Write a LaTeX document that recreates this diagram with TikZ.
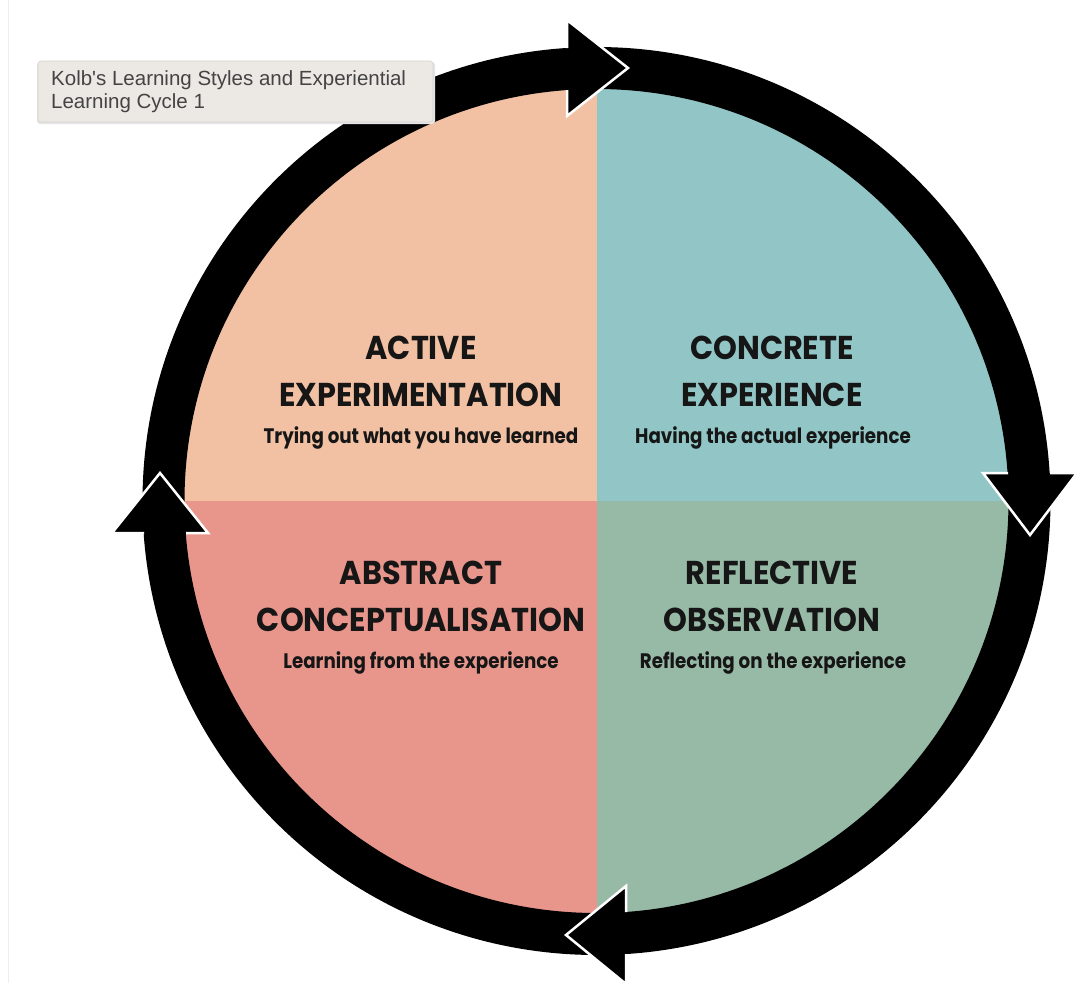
\documentclass[tikz,border=0pt]{standalone}
\usepackage{fontspec}
\setmainfont{Liberation Sans}
\newfontfamily\headfont{Poppins}[FakeStretch=0.92]
\newfontfamily\subfont{Poppins}[FakeStretch=0.87]
\definecolor{peach}{HTML}{F2C0A3}
\definecolor{teal}{HTML}{92C6C6}
\definecolor{salmon}{HTML}{E8968C}
\definecolor{sage}{HTML}{97BAA7}
\definecolor{ink}{HTML}{161616}
\definecolor{tipfill}{HTML}{ECE9E5}
\definecolor{tipline}{HTML}{D6D3CF}
\definecolor{tiptext}{HTML}{444444}
\definecolor{edge}{HTML}{EEEEEE}
\tikzset{
  heading/.style={text=ink, font=\headfont\bfseries\fontsize{33}{36}\selectfont, inner sep=0pt},
  subline/.style={text=ink, font=\subfont\bfseries\fontsize{21}{24}\selectfont, inner sep=0pt},
  headfill/.style={fill=black},
  headedge/.style={draw=white, line width=2.5pt, line join=miter},
}
\begin{document}
\begin{tikzpicture}[x=1pt,y=-1pt]
\useasboundingbox[fill=white] (0,0) rectangle (1074,983);
\draw[edge, line width=1.5pt] (8.5,0) -- (8.5,983);
\coordinate (O) at (596.5,501);

% four coloured quadrants
\begin{scope}
  \clip (O) circle (414pt);
  \fill[peach]  (O) rectangle (150,60);
  \fill[teal]   (O) rectangle (1040,60);
  \fill[salmon] (O) rectangle (150,950);
  \fill[sage]   (O) rectangle (1040,950);
\end{scope}

% cycle ring
\draw[line width=42pt] (O) circle (433pt);

% arrowheads, clockwise; the white edge leaves out the part joined to the ring
\fill[headfill] (567,20) -- (628,68) -- (567,116) -- cycle;
\draw[headedge] (567,90) -- (567,116) -- (628,68) -- (567,20) -- (567,48);

\fill[headfill] (983,473) -- (1030,535) -- (1077,473) -- cycle;
\draw[headedge] (1008,473) -- (983,473) -- (1030,535) -- (1077,473) -- (1050,473);

\fill[headfill] (626,886) -- (566,935) -- (626,984) -- cycle;
\draw[headedge] (626,912) -- (626,886) -- (566,935) -- (626,984) -- (626,954);

\fill[headfill] (112,533) -- (160,473) -- (208,533) -- cycle;
\draw[headedge] (186,533) -- (208,533) -- (160,473) -- (112,533) -- (144,533);

% quadrant labels
\node[heading] (ae1) at (421,348) {ACTIVE};
\node[heading] (ae2) at (421,395) {EXPERIMENTATION};
\node[subline] (ae3) at (421,438) {Trying out what you have learned};

\node[heading] (ce1) at (772,348) {CONCRETE};
\node[heading] (ce2) at (772,395) {EXPERIENCE};
\node[subline] (ce3) at (773,438) {Having the actual experience};

\node[heading] (ac1) at (421,573) {ABSTRACT};
\node[heading] (ac2) at (421,620) {CONCEPTUALISATION};
\node[subline] (ac3) at (421,663) {Learning from the experience};

\node[heading] (ro1) at (772,573) {REFLECTIVE};
\node[heading] (ro2) at (772,620) {OBSERVATION};
\node[subline] (ro3) at (773,663) {Reflecting on the experience};

% tooltip
\fill[black!10, rounded corners=3pt] (37,62) rectangle (435,124);
\filldraw[fill=tipfill, draw=tipline, line width=0.6pt, rounded corners=3pt] (38,61) rectangle (433,122);
\node[anchor=north west, align=left, text=tiptext, inner sep=0pt,
      font=\fontsize{20.5}{23}\selectfont] (tip) at (51,70)
  {Kolb\textquotesingle s Learning Styles and Experiential\\Learning Cycle 1};
\end{tikzpicture}
\end{document}
